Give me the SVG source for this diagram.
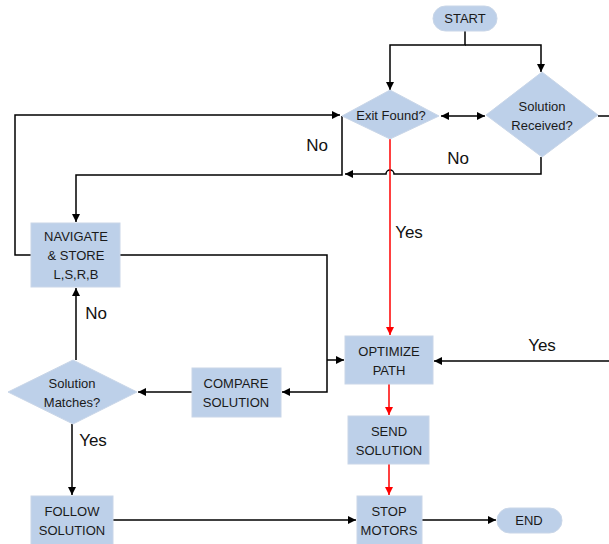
<svg xmlns="http://www.w3.org/2000/svg" width="609" height="544" viewBox="0 0 609 544">
<style>
.n{fill:#bdd0e9;stroke:#c9d6e8;stroke-width:1}
.t{font-family:"Liberation Sans",Arial,sans-serif;font-size:13px;fill:#1a1a1a;text-anchor:middle}
.l{font-family:"Liberation Sans",Arial,sans-serif;font-size:17px;fill:#111;text-anchor:middle}
.c{fill:none;stroke:#000;stroke-width:1.5}
.r{fill:none;stroke:#ff0000;stroke-width:1.5}
</style>
<defs>
<marker id="a" markerUnits="userSpaceOnUse" markerWidth="8" markerHeight="8" viewBox="0 0 8 8" refX="8" refY="4" orient="auto-start-reverse"><path d="M0,0 L8,4 L0,8 z" fill="#000"/></marker>
<marker id="ar" markerUnits="userSpaceOnUse" markerWidth="8" markerHeight="8" viewBox="0 0 8 8" refX="8" refY="4" orient="auto"><path d="M0,0 L8,4 L0,8 z" fill="#ff0000"/></marker>
</defs>
<g id="connectors">
<path class="c" d="M465,30 V45 H390 V90" marker-end="url(#a)"/>
<path class="c" d="M465,45 H541 V72" marker-end="url(#a)"/>
<path class="c" d="M441,116 H485" marker-start="url(#a)" marker-end="url(#a)"/>
<path class="c" d="M598,116 H609"/>
<path class="c" d="M609,361 H434" marker-end="url(#a)"/>
<path class="c" d="M541,157 V174 H394 A4,4 0 0 0 386,174 H345" marker-end="url(#a)"/>
<path class="c" d="M342,116 V175 H76 V222" marker-end="url(#a)"/>
<path class="c" d="M31,255 H15 V115 H340" marker-end="url(#a)"/>
<path class="c" d="M120,255 H327 V392 H282" marker-end="url(#a)"/>
<path class="c" d="M327,360 H344" marker-end="url(#a)"/>
<path class="c" d="M192,392 H138" marker-end="url(#a)"/>
<path class="c" d="M76,360 V288" marker-end="url(#a)"/>
<path class="c" d="M72,424 V495" marker-end="url(#a)"/>
<path class="c" d="M113,520 H356" marker-end="url(#a)"/>
<path class="c" d="M422,520 H496" marker-end="url(#a)"/>
<path class="r" d="M390,139 V335" marker-end="url(#ar)"/>
<path class="r" d="M389,384 V415" marker-end="url(#ar)"/>
<path class="r" d="M389,464 V495" marker-end="url(#ar)"/>
<text class="l" x="317" y="151">No</text>
<text class="l" x="458" y="164">No</text>
<text class="l" x="409" y="238">Yes</text>
<text class="l" x="542" y="351">Yes</text>
<text class="l" x="96" y="319">No</text>
<text class="l" x="93" y="446">Yes</text>
</g>
<g id="start"><rect class="n" x="433" y="6" width="64" height="25" rx="12.5"/><text class="t" x="465" y="23">START</text></g>
<g id="exit-found"><polygon class="n" points="390,90 439,116 390,139 342,116"/><text class="t" x="391" y="120">Exit Found?</text></g>
<g id="solution-received"><polygon class="n" points="542,72 598,115 542,157 486,115"/><text class="t" x="542" y="111">Solution</text><text class="t" x="542" y="130">Received?</text></g>
<g id="navigate"><rect class="n" x="31" y="223" width="89" height="64"/><text class="t" x="76" y="241">NAVIGATE</text><text class="t" x="76" y="260">&amp; STORE</text><text class="t" x="76" y="279">L,S,R,B</text></g>
<g id="optimize"><rect class="n" x="345" y="336" width="88" height="48"/><text class="t" x="389" y="356">OPTIMIZE</text><text class="t" x="389" y="375">PATH</text></g>
<g id="compare"><rect class="n" x="192" y="368" width="89" height="49"/><text class="t" x="236" y="388">COMPARE</text><text class="t" x="236" y="407">SOLUTION</text></g>
<g id="solution-matches"><polygon class="n" points="73,360 137,392 73,424 8,392"/><text class="t" x="72" y="388">Solution</text><text class="t" x="72" y="407">Matches?</text></g>
<g id="send"><rect class="n" x="348" y="416" width="81" height="48"/><text class="t" x="389" y="436">SEND</text><text class="t" x="389" y="455">SOLUTION</text></g>
<g id="follow"><rect class="n" x="31" y="496" width="82" height="50"/><text class="t" x="72" y="516">FOLLOW</text><text class="t" x="72" y="535">SOLUTION</text></g>
<g id="stop"><rect class="n" x="357" y="496" width="65" height="50"/><text class="t" x="389" y="516">STOP</text><text class="t" x="389" y="535">MOTORS</text></g>
<g id="end"><rect class="n" x="497" y="508" width="65" height="25" rx="12.5"/><text class="t" x="529" y="525">END</text></g>
</svg>
